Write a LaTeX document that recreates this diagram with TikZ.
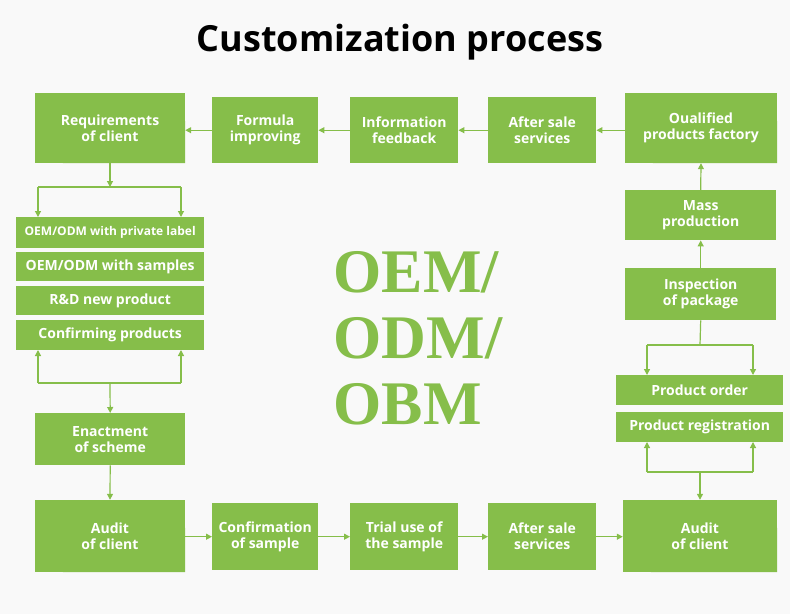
\documentclass[tikz,border=0pt]{standalone}
\usepackage{fontspec}
\setmainfont{Open Sans}
\newfontfamily\serifbig{Liberation Serif}
\usetikzlibrary{arrows.meta}
\definecolor{gr}{HTML}{86BE4A}
\definecolor{bg}{HTML}{F9F9F9}
\begin{document}
\begin{tikzpicture}[x=1pt,y=-1pt,
  box/.style={fill=gr,text=white,font=\bfseries\fontsize{14}{16}\selectfont,align=center,inner sep=0pt,anchor=north west},
  ln/.style={draw=gr,line width=1.2pt},
  ar/.style={ln,-{Triangle[length=6pt,width=6pt]}}]
\fill[bg] (0,0) rectangle (790,614);
\useasboundingbox (0,0) rectangle (790,614);
\node[font=\bfseries\fontsize{36}{40}\selectfont] (title) at (400,42) {Customization process};
\node[font=\serifbig\bfseries\fontsize{62}{66}\selectfont,text=gr,align=left,anchor=west] (oem) at (330,338) {OEM/\\ODM/\\OBM};
\newcommand{\myrbox}[6]{%
  \fill[gr] (#2,#3) -- (#4-28,#3) arc[start angle=-90,end angle=0,radius=28] -- (#4,#5) -- (#2+28,#5) arc[start angle=90,end angle=180,radius=28] -- cycle;
  \node[box,anchor=center,minimum width=#4-#2,minimum height=#5-#3] (#1) at ({(#2+#4)/2},{(#3+#5)/2}) {#6};}
\newcommand{\mysbox}[6]{%
  \node[box,minimum width=#4-#2,minimum height=#5-#3] (#1) at (#2,#3) {#6};}
\myrbox{req}{35}{93}{185}{163}{Requirements\\of client}
\mysbox{form}{212}{97}{318}{163}{Formula\\improving}
\mysbox{info}{350}{97}{458}{163}{Information\\feedback}
\mysbox{ast}{488}{97}{596}{163}{After sale\\services}
\myrbox{qual}{625}{93}{777}{163}{Oualified\\products factory}
\mysbox{mass}{625}{190}{776}{240}{Mass\\production}
\mysbox{insp}{625}{268}{776}{320}{Inspection\\of package}
\mysbox{po}{616}{375}{783}{405}{Product order}
\mysbox{pr}{616}{412}{783}{442}{Product registration}
\myrbox{audr}{623}{500}{777}{572}{Audit\\of client}
\mysbox{asb}{488}{503}{596}{570}{After sale\\services}
\mysbox{trial}{350}{503}{458}{570}{Trial use of\\the sample}
\mysbox{conf}{212}{503}{318}{570}{Confirmation\\of sample}
\myrbox{audl}{35}{500}{185}{572}{Audit\\of client}
\mysbox{enact}{35}{413}{185}{465}{Enactment\\of scheme}
\mysbox{s1}{16}{217}{204}{248}{\fontsize{12}{14}\selectfont OEM/ODM with private label}
\mysbox{s2}{16}{252}{204}{281}{OEM/ODM with samples}
\mysbox{s3}{16}{286}{204}{315}{R\&D new product}
\mysbox{s4}{16}{320}{204}{350}{Confirming products}
\draw[ar] (form.west) -- (req.east|-form.west);
\draw[ar] (info.west) -- (form.east);
\draw[ar] (ast.west) -- (info.east);
\draw[ar] (qual.west|-ast.east) -- (ast.east);
\draw[ar] (mass.north) -- (qual.south);
\draw[ar] (insp.north) -- (mass.south);
\coordinate (lj) at (110,187);
\draw[ar] (req.south) -- (lj);
\draw[ln] (38,187) -- (181,187);
\draw[ar] (38,187) -- (38,217);
\draw[ar] (181,187) -- (181,217);
\draw[ln] (38,383) -- (181,383);
\draw[ar] (38,383) -- (38,350);
\draw[ar] (181,383) -- (181,350);
\draw[ar] (110,383) -- (enact.north);
\draw[ar] (enact.south) -- (audl.north);
\draw[ar] (audl.east|-conf.west) -- (conf.west);
\draw[ar] (conf.east) -- (trial.west);
\draw[ar] (trial.east) -- (asb.west);
\draw[ar] (asb.east) -- (audr.west|-asb.east);
\draw[ln] (insp.south) -- (700,345);
\draw[ln] (647,345) -- (753,345);
\draw[ar] (647,345) -- (647,375);
\draw[ar] (753,345) -- (753,375);
\draw[ln] (647,472) -- (753,472);
\draw[ar] (647,472) -- (647,442);
\draw[ar] (753,472) -- (753,442);
\draw[ar] (700,472) -- (audr.north);
\end{tikzpicture}
\end{document}
